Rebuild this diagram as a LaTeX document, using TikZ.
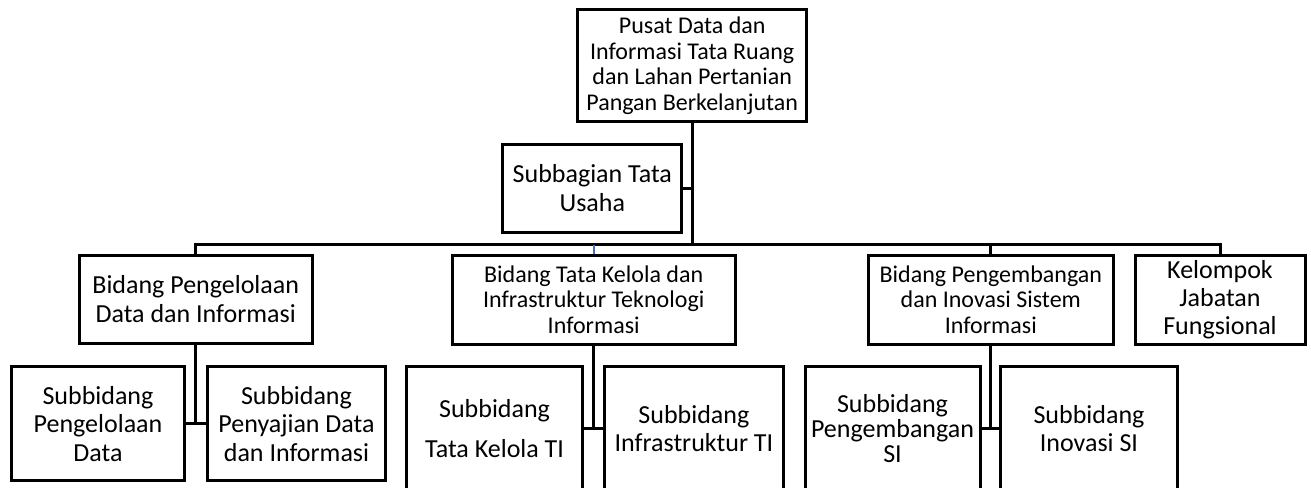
\documentclass[tikz,border=0pt]{standalone}
\usepackage{fontspec}
\setmainfont{Carlito}
\usepackage{tikz}
\usetikzlibrary{calc}

\definecolor{linkblue}{HTML}{4472C4}

\begin{document}
\begin{tikzpicture}[x=1pt, y=-1pt,
    unit/.style={draw, line width=3pt, inner sep=0pt, align=center},
    big/.style={unit, font=\fontsize{26}{28.3}\selectfont},
    small/.style={unit, font=\fontsize{24}{25.8}\selectfont},
    link/.style={line width=3pt}
    ]
    \clip (0,0) rectangle (1311,487);
    % Pusat --------------------------------------------------------------
    \node[small, minimum width=229pt, minimum height=111.7pt] (pusat) at (692.2,65.8)
        {Pusat Data dan\\Informasi Tata Ruang\\dan Lahan Pertanian\\Pangan Berkelanjutan};
    \node[big, minimum width=179.3pt, minimum height=88pt] (tu) at (592.3,188)
        {Subbagian Tata\\Usaha};
    \coordinate (bus) at (692.2,244.5);
    % Bidang -------------------------------------------------------------
    \node[big, minimum width=233.3pt, minimum height=88.3pt] (bpd) at (195.7,299.2)
        {Bidang Pengelolaan\\Data dan Informasi};
    \node[small, minimum width=282.7pt, minimum height=89.3pt] (btk) at (593.7,299.7)
        {Bidang Tata Kelola dan\\Infrastruktur Teknologi\\Informasi};
    \node[small, minimum width=245pt, minimum height=89.3pt] (bpsi) at (990.8,299.7)
        {Bidang Pengembangan\\dan Inovasi Sistem\\Informasi};
    \node[big, minimum width=170pt, minimum height=89.3pt] (kjf) at (1220,299.7)
        {Kelompok\\Jabatan\\Fungsional};
    % Subbidang ----------------------------------------------------------
    \node[big, minimum width=172.6pt, minimum height=114.3pt] (sp1) at (98,423.8)
        {Subbidang\\Pengelolaan\\Data};
    \node[big, minimum width=178.4pt, minimum height=114.3pt] (sp2) at (296.5,423.8)
        {Subbidang\\Penyajian Data\\dan Informasi};
    \node[big, minimum width=175.8pt, minimum height=124.3pt] (stk) at (494.6,428.8)
        {Subbidang\\[11.7pt]Tata Kelola TI};
    \node[big, minimum width=178.8pt, minimum height=124.3pt] (sinf) at (693.9,428.8)
        {Subbidang\\Infrastruktur TI};
    \node[big, minimum width=175pt, minimum height=124.3pt,
          font=\fontsize{26}{25}\selectfont] (spsi) at (892.5,428.8)
        {Subbidang\\Pengembangan\\SI};
    \node[big, minimum width=176.6pt, minimum height=124.3pt] (sisi) at (1089,428.8)
        {Subbidang\\Inovasi SI};
    % Garis --------------------------------------------------------------
    \draw[link] (pusat.south) -- (bus);
    \draw[link] (tu.east) -- (tu.east -| pusat.south);
    \draw[link] (bpd.north) -- (bpd.north |- bus) -- (kjf.north |- bus) -- (kjf.north);
    \draw[link] (bpsi.north) -- (bpsi.north |- bus);
    \draw[linkblue, line width=2pt] (btk.north) -- (btk.north |- bus);
    \draw[link] (bpd.south) -- (bpd.south |- sp1.east);
    \draw[link] (sp1.east) -- (sp2.west);
    \draw[link] (btk.south) -- (btk.south |- sinf.west);
    \draw[link] (stk.east) -- (sinf.west);
    \draw[link] (bpsi.south) -- (bpsi.south |- sisi.west);
    \draw[link] (spsi.east) -- (sisi.west);
\end{tikzpicture}
\end{document}
